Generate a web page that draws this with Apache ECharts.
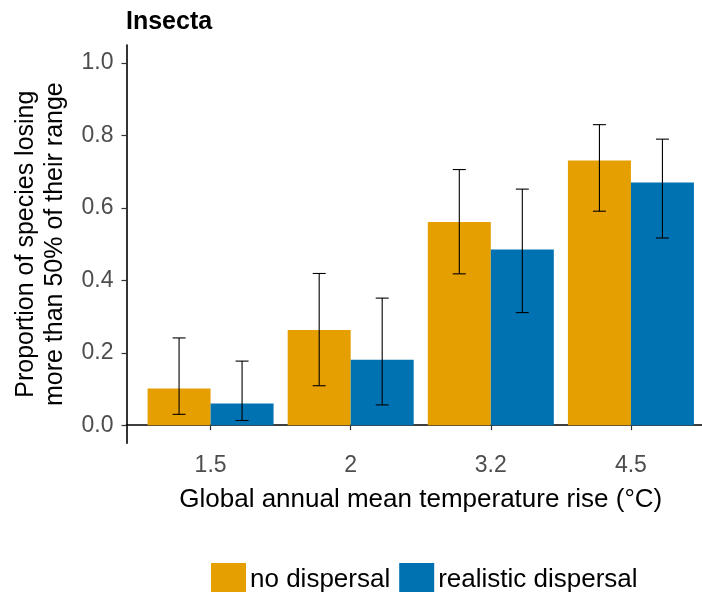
<!DOCTYPE html>
<html>
<head>
<meta charset="utf-8">
<script src="https://cdn.jsdelivr.net/npm/echarts@6/dist/echarts.min.js"></script>
<style>
  html, body { margin: 0; padding: 0; background: #fff; }
  #chart { width: 702px; height: 592px; }
</style>
</head>
<body>
<div id="chart"></div>
<script>
// Warming levels (°C) and the share of insect species losing >50% of range
const categories = ['1.5', '2', '3.2', '4.5'];
const seriesNames = ['no dispersal', 'realistic dispersal'];
const noDispersal = [0.101, 0.263, 0.561, 0.731];
const noDispersalLow = [0.030, 0.109, 0.418, 0.591];
const noDispersalHigh = [0.241, 0.419, 0.706, 0.830];
const realistic = [0.060, 0.181, 0.485, 0.670];
const realisticLow = [0.013, 0.056, 0.311, 0.517];
const realisticHigh = [0.177, 0.351, 0.652, 0.790];
const yTicks = [0, 0.2, 0.4, 0.6, 0.8, 1.0];

const FONT = "'Liberation Sans', Arial, sans-serif";
const BAR_W = 63;
const CAP_HALF = 6.5;
const COLORS = ['#E69F00', '#0072B2'];

// positions 1..n on a continuous axis, one per category
const pos = categories.map((_, i) => i + 1);

function errorData(lo, hi, side) {
  return pos.map((x, i) => [x, lo[i], hi[i], side]);
}

function renderError(params, api) {
  const x = api.value(0);
  const side = api.value(3);
  const top = api.coord([x, api.value(2)]);
  const bot = api.coord([x, api.value(1)]);
  const cx = top[0] + side * BAR_W / 2;
  const style = { stroke: '#000', lineWidth: 1.1 };
  return {
    type: 'group',
    children: [
      { type: 'line', shape: { x1: cx, y1: top[1], x2: cx, y2: bot[1] }, style },
      { type: 'line', shape: { x1: cx - CAP_HALF, y1: top[1], x2: cx + CAP_HALF, y2: top[1] }, style },
      { type: 'line', shape: { x1: cx - CAP_HALF, y1: bot[1], x2: cx + CAP_HALF, y2: bot[1] }, style }
    ]
  };
}

const chart = echarts.init(document.getElementById('chart'), null, { renderer: 'canvas' });

chart.setOption({
  animation: false,
  backgroundColor: '#fff',
  textStyle: { fontFamily: FONT },
  title: {
    text: 'Insecta',
    left: 121,
    top: 5,
    textStyle: { fontFamily: FONT, fontSize: 25, fontWeight: 'bold', color: '#000' }
  },
  legend: {
    data: seriesNames,
    top: 558,
    left: 206,
    icon: 'rect',
    itemWidth: 35,
    itemHeight: 34,
    itemGap: 9,
    textStyle: { fontFamily: FONT, fontSize: 26, color: '#000', padding: [0, 0, 0, -1] }
  },
  grid: { left: 126.5, top: 45, width: 588.5, height: 398.3, outerBoundsMode: 'none' },
  xAxis: {
    type: 'value',
    min: 0.4,
    max: 4.6,
    splitLine: { show: false },
    axisLine: { show: true, lineStyle: { color: '#000', width: 1.6 } },
    axisTick: { show: true, customValues: pos, length: 5, lineStyle: { color: '#333', width: 1.2 } },
    axisLabel: {
      customValues: pos,
      formatter: v => categories[Math.round(v) - 1],
      fontFamily: FONT, fontSize: 23, color: '#4D4D4D', margin: 11
    },
    name: 'Global annual mean temperature rise (\u00B0C)',
    nameLocation: 'middle',
    nameGap: 44,
    nameTextStyle: { fontFamily: FONT, fontSize: 26, color: '#000' }
  },
  yAxis: {
    type: 'value',
    min: -0.05,
    max: 1.05,
    splitLine: { show: false },
    axisLine: { show: true, lineStyle: { color: '#000', width: 1.6 } },
    axisTick: { show: true, customValues: yTicks, length: 5, lineStyle: { color: '#333', width: 1.2 } },
    axisLabel: {
      customValues: yTicks,
      formatter: v => v.toFixed(1),
      fontFamily: FONT, fontSize: 23, color: '#4D4D4D', margin: 13
    },
    name: 'Proportion of species losing\nmore than 50% of their range',
    nameLocation: 'middle',
    nameRotate: 90,
    nameGap: 57,
    nameTextStyle: { fontFamily: FONT, fontSize: 25, color: '#000', lineHeight: 29 }
  },
  series: [
    {
      name: seriesNames[0],
      type: 'bar',
      barWidth: BAR_W,
      barGap: '0%',
      itemStyle: { color: COLORS[0] },
      data: pos.map((x, i) => [x, noDispersal[i]])
    },
    {
      name: seriesNames[1],
      type: 'bar',
      barWidth: BAR_W,
      barGap: '0%',
      itemStyle: { color: COLORS[1] },
      data: pos.map((x, i) => [x, realistic[i]])
    },
    {
      type: 'custom',
      renderItem: renderError,
      data: errorData(noDispersalLow, noDispersalHigh, -1),
      encode: { x: 0, y: [1, 2] },
      z: 10,
      silent: true
    },
    {
      type: 'custom',
      renderItem: renderError,
      data: errorData(realisticLow, realisticHigh, 1),
      encode: { x: 0, y: [1, 2] },
      z: 10,
      silent: true
    }
  ]
});
</script>
</body>
</html>
